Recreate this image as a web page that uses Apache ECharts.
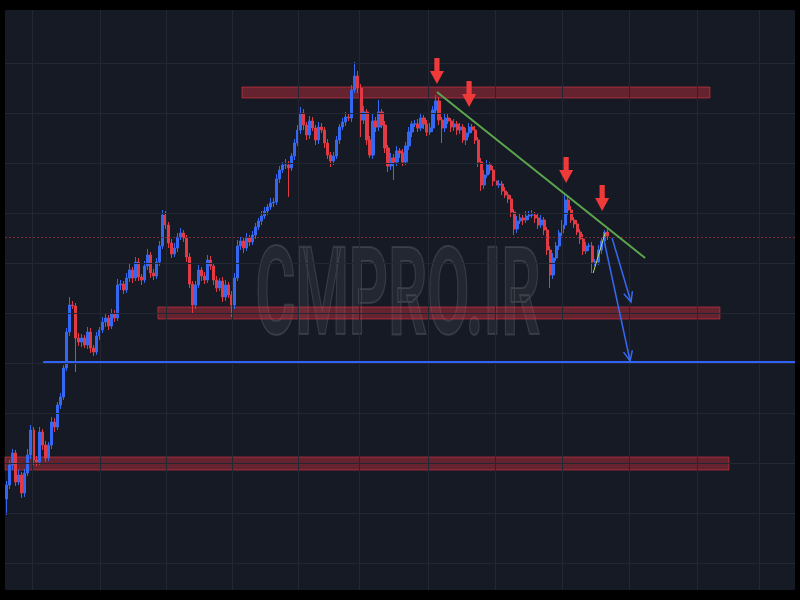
<!DOCTYPE html>
<html>
<head>
<meta charset="utf-8">
<script src="https://cdn.jsdelivr.net/npm/echarts@6/dist/echarts.min.js"></script>
<style>
  html, body { margin: 0; padding: 0; background: #000; }
  #chart { width: 800px; height: 600px; }
</style>
</head>
<body>
<div id="chart"></div>
<script>
// ---- price data (one bar per slot, oldest first) ----
const firstOpen = 22.8;
const closes = [
  25.6, 29.6, 32.0, 26.2, 27.6, 24.0, 28.0, 31.6, 36.6, 30.6,
  30.2, 36.2, 33.6, 31.0, 33.6, 38.2, 37.2, 41.6, 43.2, 49.0,
  56.2, 61.6, 61.4, 55.0, 54.2, 55.0, 53.6, 56.2, 53.0, 52.2,
  55.4, 56.6, 58.2, 59.0, 57.4, 59.8, 59.0, 65.6, 65.8, 64.6,
  67.0, 68.6, 67.0, 70.2, 67.2, 66.6, 69.4, 71.6, 68.0, 67.4,
  70.2, 73.4, 79.6, 77.6, 74.0, 71.8, 73.0, 75.2, 76.0, 75.0,
  71.2, 65.8, 61.6, 65.6, 68.6, 67.4, 66.6, 70.6, 69.4, 66.6,
  65.0, 66.4, 63.2, 65.6, 63.6, 61.6, 67.0, 73.4, 74.4, 73.0,
  75.0, 74.2, 75.6, 77.2, 78.4, 79.4, 80.4, 81.2, 82.0, 82.2,
  86.8, 88.6, 89.6, 89.6, 89.0, 91.4, 94.0, 96.6, 100.0, 97.6,
  95.6, 98.4, 97.0, 94.6, 97.2, 96.6, 94.0, 91.6, 90.4, 91.4,
  94.6, 97.2, 98.2, 99.2, 99.0, 104.6, 107.4, 105.0, 98.6, 100.2,
  94.6, 91.6, 98.4, 97.2, 100.2, 97.6, 93.0, 89.4, 91.0, 90.2,
  92.4, 92.0, 90.2, 93.4, 96.2, 97.8, 97.8, 97.0, 99.0, 97.8,
  96.2, 97.0, 100.6, 102.4, 98.6, 97.0, 99.0, 98.4, 97.2, 97.8,
  96.6, 97.2, 94.6, 96.0, 97.2, 96.6, 94.6, 90.2, 85.6, 87.6,
  89.6, 88.6, 86.4, 85.6, 85.8, 84.4, 83.6, 82.8, 80.2, 76.8,
  78.4, 79.0, 78.6, 79.4, 79.6, 79.6, 79.0, 77.6, 78.6, 76.6,
  72.6, 67.6, 71.0, 73.4, 76.0, 77.6, 82.6, 80.6, 78.6, 77.8,
  76.2, 74.8, 72.4, 73.4, 73.4, 70.2, 70.2, 72.6, 74.4, 76.2,
  75.4
];
// wick length above the body / below the body
const wickUp = [
  0.8, 1.0, 0.8, 0.6, 1.0, 0.6, 0.8, 1.2, 1.0, 0.6,
  0.8, 1.0, 0.6, 0.8, 0.6, 1.0, 0.8, 0.6, 0.8, 0.6,
  0.8, 1.6, 0.8, 0.6, 1.0, 0.8, 0.6, 1.0, 0.8, 0.6,
  0.8, 0.6, 1.0, 0.8, 0.6, 1.0, 0.8, 1.2, 0.8, 0.6,
  1.0, 1.2, 0.6, 1.0, 0.8, 0.6, 1.0, 1.2, 0.6, 0.8,
  0.8, 1.0, 1.0, 0.8, 0.6, 0.8, 1.0, 0.8, 1.0, 0.6,
  0.6, 0.8, 0.6, 0.8, 1.0, 0.6, 0.8, 1.0, 0.8, 0.6,
  0.8, 0.6, 0.8, 1.0, 0.6, 0.8, 1.0, 1.2, 0.8, 0.6,
  1.0, 0.6, 0.8, 0.8, 0.6, 1.0, 0.8, 0.6, 1.0, 0.8,
  1.0, 0.8, 0.6, 1.2, 0.8, 0.6, 0.8, 1.0, 1.2, 0.8,
  0.6, 1.0, 0.8, 0.6, 1.0, 0.8, 0.6, 0.8, 0.6, 0.8,
  0.8, 0.6, 0.8, 1.0, 0.8, 1.0, 2.8, 1.0, 0.8, 1.2,
  0.6, 0.8, 1.6, 0.8, 2.4, 0.6, 0.8, 0.6, 1.0, 0.8,
  1.0, 0.6, 0.8, 0.8, 1.0, 0.6, 0.8, 1.0, 0.8, 0.6,
  0.8, 1.0, 0.8, 1.2, 0.8, 0.6, 1.0, 0.8, 0.6, 1.0,
  0.6, 0.8, 0.6, 1.0, 0.8, 0.6, 0.8, 0.6, 0.8, 1.0,
  1.0, 0.6, 0.8, 0.6, 0.8, 0.6, 0.8, 0.6, 0.8, 0.6,
  1.0, 0.8, 0.6, 1.0, 0.8, 1.0, 0.6, 0.8, 1.0, 0.6,
  0.6, 0.8, 1.0, 0.8, 0.6, 1.0, 1.0, 0.6, 0.8, 0.6,
  0.8, 0.6, 1.0, 0.8, 0.6, 0.8, 0.6, 1.0, 0.8, 0.4,
  0.6
];
const wickDown = [
  3.2, 0.8, 1.0, 0.8, 0.6, 1.0, 0.8, 0.6, 0.8, 1.0,
  0.8, 0.6, 1.0, 0.8, 0.6, 0.8, 1.0, 0.6, 0.8, 0.6,
  0.6, 0.8, 0.6, 6.8, 0.8, 1.0, 0.6, 0.8, 1.0, 0.8,
  0.6, 0.8, 0.6, 1.0, 0.8, 0.6, 0.8, 0.6, 1.0, 0.8,
  0.6, 0.8, 1.0, 0.6, 0.8, 1.0, 0.6, 0.8, 1.0, 0.8,
  0.6, 0.8, 0.6, 0.8, 1.0, 0.8, 0.6, 0.8, 0.6, 0.8,
  1.0, 0.8, 1.6, 0.8, 0.6, 1.0, 0.8, 0.6, 0.8, 1.0,
  0.8, 0.6, 1.0, 0.8, 0.6, 2.4, 0.8, 0.6, 0.8, 1.0,
  0.6, 0.8, 0.6, 0.8, 0.6, 0.8, 0.6, 0.8, 0.6, 0.8,
  0.6, 0.8, 0.6, 0.8, 5.8, 0.6, 0.8, 0.6, 0.8, 1.0,
  1.0, 0.8, 0.6, 1.0, 0.8, 0.6, 1.0, 0.8, 1.2, 0.8,
  0.6, 0.8, 0.6, 0.8, 0.6, 0.8, 0.6, 1.0, 3.4, 0.8,
  1.0, 0.6, 0.8, 1.0, 0.8, 0.6, 1.0, 1.2, 0.8, 3.6,
  0.8, 1.0, 0.8, 0.6, 0.8, 1.0, 0.6, 0.8, 0.6, 1.0,
  0.8, 0.6, 0.8, 0.6, 1.0, 3.0, 0.8, 0.6, 1.0, 0.8,
  1.0, 0.8, 0.6, 1.0, 0.8, 0.6, 0.8, 1.0, 1.2, 0.8,
  0.6, 0.8, 1.0, 0.8, 0.6, 0.8, 0.6, 0.8, 1.0, 1.2,
  0.8, 0.6, 1.0, 0.6, 0.8, 0.6, 1.0, 0.8, 0.6, 1.0,
  1.0, 2.6, 0.8, 0.6, 0.8, 0.6, 0.8, 1.0, 0.6, 0.8,
  0.6, 1.0, 0.8, 0.6, 1.0, 2.2, 0.8, 0.6, 0.8, 0.6,
  0.8
];

// ---- time slots and grid ----
const barSlots = 263;
const priceGridLevels = [10, 20, 30, 40, 50, 60, 70, 80, 90, 100, 110];
const timeGridSlots = [8.5, 31.1, 53.1, 75.1, 97.0, 117.4, 140.3, 162.6, 184.9, 207.2, 229.9, 250.5];

// ---- drawing objects (slot, price) ----
const lastPrice = 75.2;
const resistanceZones = [
  [78.4, 105.2, 234.2, 103.0],
  [50.4, 61.2, 237.5, 58.8],
  [-0.5, 31.2, 240.5, 28.6]
];
const supportLine = [[12.2, 50.2], [262.5, 50.2]];
const trendLine = [[143.3, 104.2], [212.6, 71.0]];
const pullbackLine = [[195.3, 68.0], [199.3, 76.0]];
const targetArrows = [
  [201.6, 75.0, 207.9, 62.2],
  [198.9, 74.6, 207.6, 50.4]
];
const rejectionMarks = [
  [143.3, 105.8],
  [154.0, 101.2],
  [186.3, 86.0],
  [198.3, 80.4]
];

// open of each bar is the close of the bar before it
const candles = closes.map((c, i) => {
  const o = i === 0 ? firstOpen : closes[i - 1];
  return [o, c, Math.min(o, c) - wickDown[i], Math.max(o, c) + wickUp[i]];
});
const slotNames = Array.from({ length: barSlots }, (_, i) => 'T' + i);

const UP = '#3468f2';
const DOWN = '#e23a44';

const chart = echarts.init(document.getElementById('chart'));
chart.setOption({
  animation: false,
  backgroundColor: '#000',
  grid: {
    left: 5, right: 5, top: 10, bottom: 10,
    show: true, backgroundColor: '#161a25', borderWidth: 0
  },
  xAxis: [
    { type: 'category', data: slotNames, boundaryGap: true, show: false },
    { type: 'value', min: -0.5, max: barSlots - 0.5, show: false }
  ],
  yAxis: { type: 'value', min: 4.6, max: 120.6, show: false },
  graphic: [{
    type: 'text',
    x: 398, y: 303,
    scaleX: 0.5,
    z: 1,
    silent: true,
    style: {
      text: 'CMPRO.IR',
      font: 'bold 122px Roboto',
      textAlign: 'center', textVerticalAlign: 'middle',
      align: 'center', verticalAlign: 'middle',
      fill: 'rgba(255,255,255,0.06)',
      stroke: 'rgba(255,255,255,0.12)',
      lineWidth: 2
    }
  }],
  series: [
    {
      // grid lines, last-price line and zones
      type: 'line', xAxisIndex: 1, data: [], z: 1, silent: true,
      markLine: {
        silent: true, symbol: 'none', label: { show: false },
        lineStyle: { color: '#232734', width: 1, type: 'solid' },
        data: [
          ...priceGridLevels.map(p => ({ yAxis: p })),
          ...timeGridSlots.map(v => ({ xAxis: v })),
          { yAxis: lastPrice, lineStyle: { color: '#7e2a34', width: 1, type: [2, 2] } }
        ]
      },
      markArea: {
        silent: true,
        itemStyle: { color: 'rgba(242,54,69,0.36)', borderColor: 'rgba(242,54,69,0.55)', borderWidth: 1 },
        data: resistanceZones.map(z => [{ coord: [z[0], z[1]] }, { coord: [z[2], z[3]] }])
      }
    },
    {
      type: 'candlestick',
      xAxisIndex: 0,
      data: candles,
      barWidth: 2.6,
      z: 3,
      itemStyle: {
        color: UP, color0: DOWN,
        borderColor: UP, borderColor0: DOWN,
        borderWidth: 1
      }
    },
    {
      // support, trend line and pullback leg
      type: 'line', xAxisIndex: 1, data: [], z: 4, silent: true,
      markLine: {
        silent: true, symbol: 'none', label: { show: false },
        data: [
          [{ coord: supportLine[0], lineStyle: { color: '#2f62f5', width: 2, type: 'solid' } }, { coord: supportLine[1] }],
          [{ coord: trendLine[0], lineStyle: { color: '#5ca64c', width: 2, type: 'solid' } }, { coord: trendLine[1] }],
          [{ coord: pullbackLine[0], lineStyle: { color: '#b6d96c', width: 1, type: 'solid' } }, { coord: pullbackLine[1] }]
        ]
      }
    },
    {
      type: 'custom', xAxisIndex: 1, z: 5, silent: true,
      data: targetArrows,
      encode: { x: [0, 2], y: [1, 3] },
      renderItem(params, api) {
        const a = api.coord([api.value(0), api.value(1)]);
        const b = api.coord([api.value(2), api.value(3)]);
        const ang = Math.atan2(b[1] - a[1], b[0] - a[0]);
        const L = 11, s = 0.42;
        const h1 = [b[0] - L * Math.cos(ang - s), b[1] - L * Math.sin(ang - s)];
        const h2 = [b[0] - L * Math.cos(ang + s), b[1] - L * Math.sin(ang + s)];
        const st = { stroke: '#3669f2', lineWidth: 1.5, fill: null };
        return {
          type: 'group',
          children: [
            { type: 'line', shape: { x1: a[0], y1: a[1], x2: b[0], y2: b[1] }, style: st },
            { type: 'polyline', shape: { points: [h1, b, h2] }, style: st }
          ]
        };
      }
    },
    {
      type: 'custom', xAxisIndex: 1, z: 5, silent: true,
      data: rejectionMarks,
      encode: { x: 0, y: 1 },
      renderItem(params, api) {
        const t = api.coord([api.value(0), api.value(1)]);
        const x = t[0], y = t[1];
        const pts = [
          [x, y], [x - 7, y - 13], [x - 2.6, y - 13], [x - 2.6, y - 26],
          [x + 2.6, y - 26], [x + 2.6, y - 13], [x + 7, y - 13]
        ];
        return { type: 'polygon', shape: { points: pts }, style: { fill: '#f03a3a' } };
      }
    }
  ]
});
</script>
</body>
</html>
